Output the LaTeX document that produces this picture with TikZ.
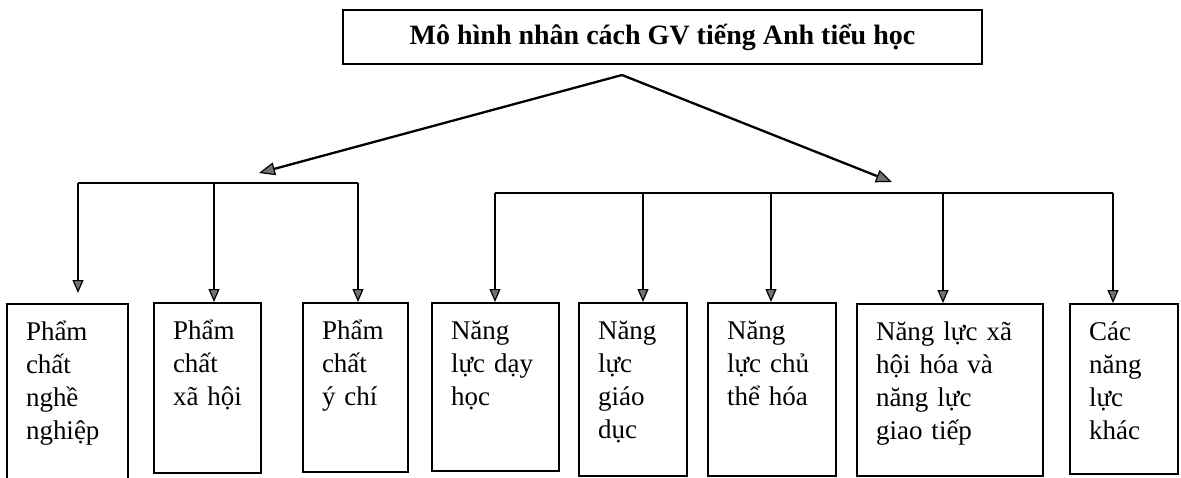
\documentclass[tikz,border=0pt]{standalone}
\usepackage{fontspec}
\setmainfont{Liberation Serif}
\usetikzlibrary{arrows.meta}
\tikzset{
  titlebox/.style={draw, line width=2.2pt, minimum width=639pt, minimum height=54pt,
    inner sep=0pt, font=\fontsize{28}{33}\selectfont\bfseries},
  cell/.style 2 args={draw, line width=2pt, anchor=north west, inner xsep=19pt, inner ysep=0pt,
    text width=#1, text height=36pt, text depth=#2, align=left,
    font=\fontsize{27}{33}\selectfont},
  conn/.style={line width=2.3pt, -{Triangle[length=16pt,width=13pt,fill=black!55,line width=1.2pt]}},
  drop/.style={line width=2.3pt, -{Triangle[length=13pt,width=11pt,fill=black!55,line width=1.2pt]}},
  bus/.style={line width=2.3pt}
}
\begin{document}
\begin{tikzpicture}[x=1pt,y=-1pt]
\useasboundingbox (0,0) rectangle (1181,477);
% title
\node[titlebox] (title) at (662.5,37) {Mô hình nhân cách GV tiếng Anh tiểu học};
% boxes
\node[cell={83pt}{151pt}] (b1) at (6,303) {Phẩm\\chất\\nghề\\nghiệp};
\node[cell={69pt}{134pt}] (b2) at (153,302) {Phẩm\\chất\\xã hội};
\node[cell={67pt}{133pt}] (b3) at (302,302) {Phẩm\\chất\\ý chí};
\node[cell={89pt}{132pt}] (b4) at (431,302) {Năng\\lực dạy\\học};
\node[cell={70pt}{137pt}] (b5) at (578,302) {Năng\\lực\\giáo\\dục};
\node[cell={90pt}{137pt}] (b6) at (707,302) {Năng\\lực chủ\\thể hóa};
\node[cell={148pt}{136pt}] (b7) at (856,303) {Năng lực xã\\hội hóa và\\năng lực\\giao tiếp};
\node[cell={70pt}{134pt}] (b8) at (1069,303) {Các\\năng\\lực\\khác};
% main arrows
\coordinate (apex) at (622,75);
\coordinate (ltip) at (259,173);
\coordinate (rtip) at (892,182);
\draw[conn] (apex) -- (ltip);
\draw[conn] (apex) -- (rtip);
% left bus
\coordinate (l1) at (78,183);
\coordinate (l2) at (214,183);
\coordinate (l3) at (358,183);
\draw[bus] (l1) -- (l3);
\draw[drop] (l1) -- (78,293);
\draw[drop] (l2) -- (l2 |- b2.north);
\draw[drop] (l3) -- (l3 |- b3.north);
% right bus
\coordinate (r1) at (495,193);
\coordinate (r2) at (643,193);
\coordinate (r3) at (771,193);
\coordinate (r4) at (943,193);
\coordinate (r5) at (1113,193);
\draw[bus] (r1) -- (r5);
\draw[drop] (r1) -- (r1 |- b4.north);
\draw[drop] (r2) -- (r2 |- b5.north);
\draw[drop] (r3) -- (r3 |- b6.north);
\draw[drop] (r4) -- (r4 |- b7.north);
\draw[drop] (r5) -- (r5 |- b8.north);
\end{tikzpicture}
\end{document}
